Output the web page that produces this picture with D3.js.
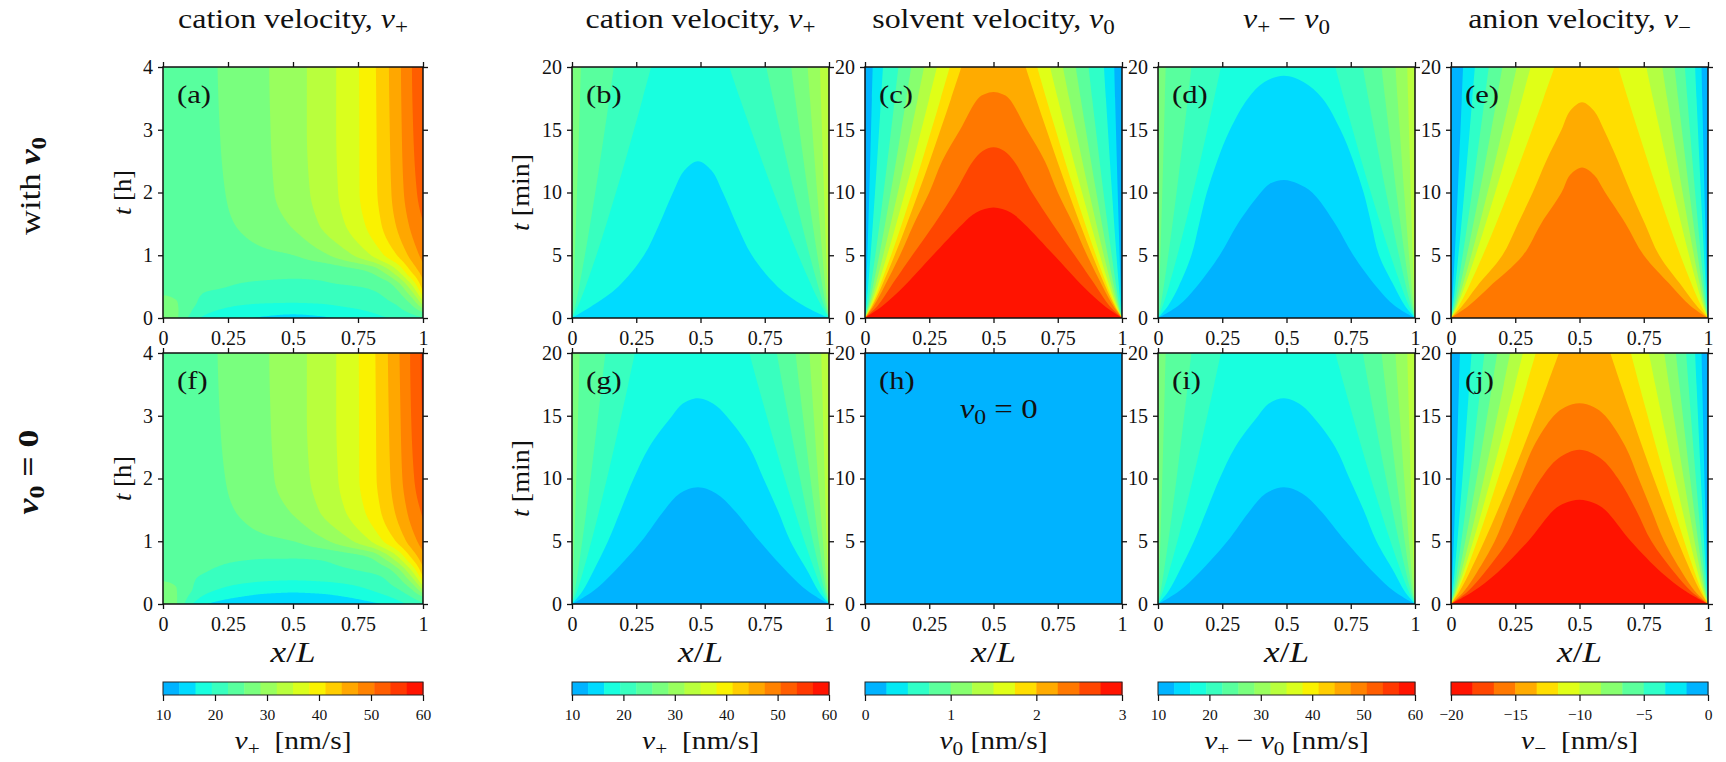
<!DOCTYPE html>
<html>
<head>
<meta charset="utf-8">
<script src="https://cdn.jsdelivr.net/npm/d3@7"></script>
<style>
  body { margin: 0; background: #fff; }
  svg { display: block; }
  svg text { font-family: "Liberation Serif", "Times New Roman", serif; white-space: pre; }
</style>
</head>
<body>
<svg id="fig" width="1726" height="762"></svg>
<script>
// ---------------------------------------------------------------------------
// Long-time panels (a), (f): sampled fields, rows = times [h], cols = x/L
// ---------------------------------------------------------------------------
const xHour = [0, 0.05, 0.1, 0.15, 0.2, 0.3, 0.4, 0.5, 0.6, 0.7, 0.8, 0.85, 0.9, 0.95, 1];
const tHour = [0, 0.1, 0.25, 0.5, 0.75, 1, 1.5, 2, 3, 4];

// (a) cation velocity, with solvent velocity [nm/s]
const cationLongWithSolvent = [
  [27, 26, 22, 19, 17.5, 16.5, 16, 15.8, 16, 16.5, 18, 19, 20, 21, 22],
  [26.8, 26, 23, 20.5, 19.2, 17.8, 17, 16.7, 17, 18, 19.5, 20.5, 21.5, 23, 26],
  [26.5, 25.8, 23.5, 22, 21, 20, 19.6, 19.5, 19.7, 20.5, 21.5, 22, 23, 26, 34],
  [24.5, 24, 23, 22.8, 22.7, 22.3, 22.1, 22.0, 22.1, 22.3, 22.8, 23.5, 26.5, 33, 43],
  [24, 23.7, 23.5, 23.3, 23.2, 23.0, 23.0, 23.0, 23.1, 24.3, 26.2, 29.5, 34.5, 41, 46],
  [24, 24, 24, 24.1, 24.2, 24.5, 25, 25.6, 27.7, 30.7, 35, 38.1, 41.25, 45, 48.5],
  [24, 24.3, 24.5, 24.8, 25.0, 25.9, 27.4, 29.1, 31.9, 35, 39.2, 41.8, 44.7, 47.8, 50.5],
  [24, 24.3, 24.6, 24.9, 25.2, 26.5, 28.2, 30.3, 32.8, 35.9, 40.1, 42.6, 45.8, 49.0, 52],
  [24, 24.3, 24.7, 25.0, 25.4, 27.0, 28.5, 30.6, 33.1, 36.1, 40.1, 43.0, 46.2, 49.8, 53],
  [24, 24.3, 24.7, 25.0, 25.5, 27.1, 28.6, 30.6, 33.1, 36.1, 40.2, 43.2, 46.4, 50.1, 53.5]
];

// (f) cation velocity, solvent at rest [nm/s]
const cationLongNoSolvent = [
  [27, 25.8, 20.5, 17, 15.5, 14, 13.2, 12.8, 13.2, 14, 15.5, 16.5, 18, 20, 22],
  [26.8, 25.8, 22, 19, 17.5, 16, 15.2, 15, 15.2, 16, 17.5, 18.5, 20, 22, 25],
  [26.5, 25.7, 23.2, 21, 19.8, 18.3, 17.5, 17.2, 17.5, 18.3, 19.8, 21, 22.5, 25.5, 33],
  [24.5, 24, 23, 22.6, 22.2, 21.6, 21.2, 21.1, 21.3, 21.8, 22.6, 23.5, 26.5, 33, 43],
  [24, 23.7, 23.4, 23.2, 23.0, 22.8, 22.7, 22.7, 22.9, 24.0, 26.0, 29.5, 34.5, 41, 46.5],
  [24, 24, 24, 24.1, 24.2, 24.5, 25, 25.6, 27.7, 30.7, 35, 38.3, 41.6, 45.5, 49],
  [24, 24.3, 24.5, 24.8, 25.0, 25.9, 27.4, 29.1, 31.9, 35, 39.3, 42, 45, 48.3, 51.2],
  [24, 24.3, 24.6, 24.9, 25.2, 26.5, 28.2, 30.3, 32.8, 35.9, 40.2, 42.8, 46.1, 49.5, 53],
  [24, 24.3, 24.7, 25.0, 25.4, 27.0, 28.5, 30.6, 33.1, 36.1, 40.2, 43.2, 46.5, 50.3, 54],
  [24, 24.3, 24.7, 25.0, 25.5, 27.1, 28.6, 30.6, 33.1, 36.1, 40.3, 43.4, 46.8, 50.6, 54.5]
];

// ---------------------------------------------------------------------------
// First-20-minute panels: band boundaries. For every level, the x/L where the
// boundary crosses each time row (left and right branch); a boundary that
// closes below t = 20 min ends with the points of its rounded top [x/L, t].
// ---------------------------------------------------------------------------
const tRows = [0, 1, 2.5, 5, 7.5, 10, 12.5, 15, 17.5, 20];

// (b) cation velocity with solvent velocity: region v+ <= level
const cationLevels = [31.875, 28.75, 25.625, 22.5, 19.375, 16.25];
const cationLeft = [
  [0, 0, 0, 0, 0, 0, 0, 0, 0, 0],
  [0, 0, 0, 0, 0, 0, 0, 0, 0, 0],
  [0, 0.0027, 0.006, 0.0108, 0.0152, 0.0194, 0.0235, 0.0274, 0.0313, 0.035],
  [0, 0.0127, 0.0279, 0.0502, 0.0707, 0.0905, 0.1094, 0.1276, 0.1456, 0.163],
  [0, 0.024, 0.0527, 0.0949, 0.1337, 0.1709, 0.2067, 0.2412, 0.275, 0.308],
  [0, 0.08, 0.18, 0.28, 0.34, 0.393]
];
const cationRight = [
  [1, 0.9973, 0.994, 0.9892, 0.9848, 0.9806, 0.9765, 0.9726, 0.9687, 0.965],
  [1, 0.9935, 0.9858, 0.9744, 0.964, 0.9539, 0.9443, 0.935, 0.9259, 0.917],
  [1, 0.9885, 0.9749, 0.9547, 0.9362, 0.9184, 0.9014, 0.8849, 0.8687, 0.853],
  [1, 0.981, 0.9583, 0.9248, 0.8941, 0.8646, 0.8363, 0.8089, 0.7821, 0.756],
  [1, 0.9697, 0.9337, 0.8805, 0.8316, 0.7847, 0.7396, 0.6962, 0.6535, 0.612],
  [1, 0.9, 0.8, 0.7, 0.64, 0.587]
];
const cationPeaks = [null, null, null, null, null, [[0.437, 11.75], [0.49, 12.5], [0.543, 11.75]]];

// (c) solvent velocity: region v0 >= level
const solventLevels = [0.25, 0.5, 0.75, 1.0, 1.25, 1.5, 1.75, 2.0, 2.25, 2.5, 2.75];
const solventLeft = [
  [0, 0.0023, 0.0051, 0.0092, 0.013, 0.0167, 0.0201, 0.0235, 0.0268, 0.03],
  [0, 0.0055, 0.012, 0.0216, 0.0304, 0.0389, 0.047, 0.0548, 0.0625, 0.07],
  [0, 0.0101, 0.0222, 0.04, 0.0564, 0.0722, 0.0872, 0.1018, 0.1161, 0.13],
  [0, 0.014, 0.0308, 0.0554, 0.0781, 0.0999, 0.1208, 0.1409, 0.1607, 0.18],
  [0, 0.0179, 0.0393, 0.0708, 0.0998, 0.1277, 0.1543, 0.1801, 0.2054, 0.23],
  [0, 0.0218, 0.0479, 0.0862, 0.1215, 0.1554, 0.1879, 0.2192, 0.25, 0.28],
  [0, 0.0257, 0.0564, 0.1016, 0.1432, 0.1832, 0.2214, 0.2584, 0.2947, 0.33],
  [0, 0.0293, 0.0641, 0.1155, 0.1628, 0.2081, 0.2516, 0.2936, 0.3349, 0.375],
  [0, 0.035, 0.075, 0.136, 0.19, 0.25, 0.3, 0.37, 0.44],
  [0, 0.05, 0.1, 0.184, 0.27, 0.35, 0.42],
  [0, 0.07, 0.15, 0.264, 0.38]
];
const solventRight = [
  [1, 0.9977, 0.9949, 0.9908, 0.987, 0.9833, 0.9799, 0.9765, 0.9732, 0.97],
  [1, 0.9945, 0.988, 0.9784, 0.9696, 0.9611, 0.953, 0.9452, 0.9375, 0.93],
  [1, 0.9899, 0.9778, 0.96, 0.9436, 0.9278, 0.9128, 0.8982, 0.8839, 0.87],
  [1, 0.986, 0.9692, 0.9446, 0.9219, 0.9001, 0.8792, 0.8591, 0.8393, 0.82],
  [1, 0.9821, 0.9607, 0.9292, 0.9002, 0.8723, 0.8457, 0.8199, 0.7946, 0.77],
  [1, 0.9782, 0.9521, 0.9138, 0.8785, 0.8446, 0.8121, 0.7808, 0.75, 0.72],
  [1, 0.9743, 0.9436, 0.8984, 0.8568, 0.8168, 0.7786, 0.7416, 0.7053, 0.67],
  [1, 0.9707, 0.9359, 0.8845, 0.8372, 0.7919, 0.7484, 0.7064, 0.6651, 0.625],
  [1, 0.965, 0.925, 0.864, 0.81, 0.75, 0.7, 0.63, 0.56],
  [1, 0.95, 0.9, 0.816, 0.73, 0.65, 0.58],
  [1, 0.93, 0.85, 0.736, 0.62]
];
const solventPeaks = [null, null, null, null, null, null, null, null,
  [[0.467, 17.85], [0.5, 18], [0.533, 17.85]],
  [[0.458, 13.3], [0.5, 13.6], [0.542, 13.3]],
  [[0.433, 8.4], [0.5, 8.8], [0.567, 8.4]]];

// (d) cation velocity relative to the solvent: region v+ - v0 <= level
const relativeLevels = [31.875, 28.75, 25.625, 22.5, 19.375, 16.25, 13.125];
const relativeLeft = [
  [0, 0, 0, 0, 0, 0, 0, 0, 0, 0],
  [0, 0, 0, 0, 0, 0, 0, 0, 0, 0],
  [0, 0.0023, 0.0051, 0.0092, 0.013, 0.0167, 0.0201, 0.0235, 0.0268, 0.03],
  [0, 0.0101, 0.0222, 0.04, 0.0564, 0.0722, 0.0872, 0.1018, 0.1161, 0.13],
  [0, 0.0191, 0.0419, 0.0755, 0.1063, 0.136, 0.1644, 0.1918, 0.2188, 0.245],
  [0, 0.04, 0.08, 0.13, 0.16, 0.19, 0.23, 0.28, 0.35],
  [0, 0.08, 0.15, 0.24, 0.31, 0.4]
];
const relativeRight = [
  [1, 0.9977, 0.9949, 0.9908, 0.987, 0.9833, 0.9799, 0.9765, 0.9732, 0.97],
  [1, 0.9941, 0.987, 0.9766, 0.967, 0.9578, 0.949, 0.9405, 0.9321, 0.924],
  [1, 0.9899, 0.9778, 0.96, 0.9436, 0.9278, 0.9128, 0.8982, 0.8839, 0.87],
  [1, 0.9842, 0.9653, 0.9375, 0.9119, 0.8873, 0.8638, 0.841, 0.8187, 0.797],
  [1, 0.9758, 0.947, 0.9045, 0.8655, 0.828, 0.792, 0.7573, 0.7232, 0.69],
  [1, 0.96, 0.92, 0.86, 0.83, 0.8, 0.76, 0.71, 0.64],
  [1, 0.92, 0.85, 0.76, 0.69, 0.6]
];
const relativePeaks = [null, null, null, null, null,
  [[0.414, 18.8], [0.49, 19.3], [0.566, 18.8]],
  [[0.435, 10.7], [0.49, 11], [0.545, 10.7]]];

// (e) anion velocity with solvent velocity: region v- <= level
const anionLevels = [-1.667, -3.333, -5, -6.667, -8.333, -10, -11.667, -13.333, -15];
const anionLeft = [
  [0, 0.0037, 0.008, 0.0145, 0.0204, 0.0261, 0.0315, 0.0368, 0.042, 0.047],
  [0, 0.0073, 0.0159, 0.0286, 0.0404, 0.0516, 0.0624, 0.0728, 0.083, 0.093],
  [0, 0.0115, 0.0251, 0.0453, 0.0638, 0.0816, 0.0986, 0.1151, 0.1313, 0.147],
  [0, 0.0156, 0.0342, 0.0616, 0.0868, 0.111, 0.1342, 0.1566, 0.1786, 0.2],
  [0, 0.02, 0.0438, 0.0788, 0.1111, 0.1421, 0.1718, 0.2004, 0.2286, 0.256],
  [0, 0.0242, 0.053, 0.0955, 0.1345, 0.172, 0.208, 0.2427, 0.2768, 0.31],
  [0, 0.0314, 0.0689, 0.1241, 0.1749, 0.2237, 0.2704, 0.3155, 0.3599, 0.403],
  [0, 0.045, 0.1, 0.2, 0.26, 0.318, 0.37, 0.43],
  [0, 0.07, 0.15, 0.28, 0.35, 0.43]
];
const anionRight = [
  [1, 0.998, 0.9957, 0.9923, 0.9892, 0.9861, 0.9832, 0.9804, 0.9777, 0.975],
  [1, 0.9961, 0.9915, 0.9846, 0.9783, 0.9723, 0.9665, 0.9609, 0.9554, 0.95],
  [1, 0.993, 0.9846, 0.9723, 0.9609, 0.95, 0.9396, 0.9295, 0.9196, 0.91],
  [1, 0.9899, 0.9778, 0.96, 0.9436, 0.9278, 0.9128, 0.8982, 0.8839, 0.87],
  [1, 0.9861, 0.9696, 0.9452, 0.9227, 0.9012, 0.8806, 0.8606, 0.841, 0.822],
  [1, 0.9813, 0.959, 0.9261, 0.8958, 0.8668, 0.839, 0.8121, 0.7857, 0.76],
  [1, 0.9728, 0.9403, 0.8925, 0.8485, 0.8063, 0.7658, 0.7267, 0.6883, 0.651],
  [1, 0.955, 0.9, 0.81, 0.755, 0.7, 0.65, 0.595],
  [1, 0.93, 0.86, 0.75, 0.68, 0.6]
];
const anionPeaks = [null, null, null, null, null, null, null,
  [[0.463, 16.5], [0.51, 17.2], [0.557, 16.5]],
  [[0.463, 11.4], [0.51, 12], [0.557, 11.4]]];

// (g), (i) cation velocity with the solvent at rest: region v+ <= level
const restCationLevels = [31.875, 28.75, 25.625, 22.5, 19.375, 16.25, 13.125];
const restCationLeft = [
  [0, 0, 0, 0, 0, 0, 0, 0, 0, 0],
  [0, 0, 0, 0, 0, 0, 0, 0, 0, 0],
  [0, 0.0023, 0.0051, 0.0092, 0.013, 0.0167, 0.0201, 0.0235, 0.0268, 0.03],
  [0, 0.0101, 0.0222, 0.04, 0.0564, 0.0722, 0.0872, 0.1018, 0.1161, 0.13],
  [0, 0.0191, 0.0419, 0.0755, 0.1063, 0.136, 0.1644, 0.1918, 0.2188, 0.245],
  [0, 0.04, 0.08, 0.14, 0.19, 0.24, 0.3, 0.39],
  [0, 0.08, 0.16, 0.27, 0.36]
];
const restCationRight = [
  [1, 0.9977, 0.9949, 0.9908, 0.987, 0.9833, 0.9799, 0.9765, 0.9732, 0.97],
  [1, 0.9941, 0.987, 0.9766, 0.967, 0.9578, 0.949, 0.9405, 0.9321, 0.924],
  [1, 0.9899, 0.9778, 0.96, 0.9436, 0.9278, 0.9128, 0.8982, 0.8839, 0.87],
  [1, 0.9842, 0.9653, 0.9375, 0.9119, 0.8873, 0.8638, 0.841, 0.8187, 0.797],
  [1, 0.9758, 0.947, 0.9045, 0.8655, 0.828, 0.792, 0.7573, 0.7232, 0.69],
  [1, 0.96, 0.92, 0.85, 0.8, 0.745, 0.69, 0.6],
  [1, 0.92, 0.84, 0.73, 0.63]
];
const restCationPeaks = [null, null, null, null, null,
  [[0.43, 15.95], [0.49, 16.4], [0.55, 15.95]],
  [[0.419, 8.8], [0.49, 9.3], [0.561, 8.8]]];

// (j) anion velocity with the solvent at rest: region v- <= level
const restAnionLevels = [-1.667, -3.333, -5, -6.667, -8.333, -10, -11.667, -13.333, -15, -16.667, -18.333];
const restAnionLeft = [
  [0, 0.0027, 0.006, 0.0108, 0.0152, 0.0194, 0.0235, 0.0274, 0.0313, 0.035],
  [0, 0.0062, 0.0137, 0.0246, 0.0347, 0.0444, 0.0537, 0.0626, 0.0714, 0.08],
  [0, 0.0101, 0.0222, 0.04, 0.0564, 0.0722, 0.0872, 0.1018, 0.1161, 0.13],
  [0, 0.014, 0.0308, 0.0554, 0.0781, 0.0999, 0.1208, 0.1409, 0.1607, 0.18],
  [0, 0.0179, 0.0393, 0.0708, 0.0998, 0.1277, 0.1543, 0.1801, 0.2054, 0.23],
  [0, 0.0218, 0.0479, 0.0862, 0.1215, 0.1554, 0.1879, 0.2192, 0.25, 0.28],
  [0, 0.0257, 0.0564, 0.1016, 0.1432, 0.1832, 0.2214, 0.2584, 0.2947, 0.33],
  [0, 0.0328, 0.0718, 0.1294, 0.1823, 0.2331, 0.2818, 0.3289, 0.3751, 0.42],
  [0, 0.05, 0.1, 0.17, 0.22, 0.27, 0.32, 0.4],
  [0, 0.065, 0.13, 0.22, 0.28, 0.35],
  [0, 0.085, 0.18, 0.3, 0.4]
];
const restAnionRight = [
  [1, 0.998, 0.9957, 0.9923, 0.9892, 0.9861, 0.9832, 0.9804, 0.9777, 0.975],
  [1, 0.9961, 0.9915, 0.9846, 0.9783, 0.9723, 0.9665, 0.9609, 0.9554, 0.95],
  [1, 0.9934, 0.9855, 0.9738, 0.9631, 0.9528, 0.943, 0.9334, 0.9241, 0.915],
  [1, 0.9903, 0.9786, 0.9615, 0.9458, 0.9306, 0.9161, 0.9021, 0.8884, 0.875],
  [1, 0.9867, 0.9709, 0.9477, 0.9262, 0.9057, 0.886, 0.8669, 0.8482, 0.83],
  [1, 0.9821, 0.9607, 0.9292, 0.9002, 0.8723, 0.8457, 0.8199, 0.7946, 0.77],
  [1, 0.9766, 0.9487, 0.9076, 0.8698, 0.8335, 0.7987, 0.7651, 0.7321, 0.7],
  [1, 0.9704, 0.935, 0.883, 0.8351, 0.7891, 0.745, 0.7025, 0.6607, 0.62],
  [1, 0.95, 0.9, 0.83, 0.78, 0.73, 0.68, 0.6],
  [1, 0.935, 0.87, 0.78, 0.72, 0.65],
  [1, 0.915, 0.82, 0.7, 0.6]
];
const restAnionPeaks = [null, null, null, null, null, null, null, null,
  [[0.445, 15.7], [0.5, 16], [0.555, 15.7]],
  [[0.417, 11.6], [0.5, 12.3], [0.583, 11.6]],
  [[0.444, 8.05], [0.5, 8.3], [0.556, 8.05]]];

// Tick values
const xTicks = [0, 0.25, 0.5, 0.75, 1];
const hourTicks = [0, 1, 2, 3, 4];
const minuteTicks = [0, 5, 10, 15, 20];
const cationTicks = [10, 20, 30, 40, 50, 60];
const solventTicks = [0, 1, 2, 3];
const anionTicks = [-20, -15, -10, -5, 0];

// Discrete colour scales: number of bands across each colour bar
const colourScales = {
  cation:  { min: 10,  max: 60, bands: 16, reversed: false, ticks: cationTicks },
  solvent: { min: 0,   max: 3,  bands: 12, reversed: false, ticks: solventTicks },
  anion:   { min: -20, max: 0,  bands: 12, reversed: true,  ticks: anionTicks }
};

// ---------------------------------------------------------------------------
// Layout
// ---------------------------------------------------------------------------
const colLeft = [163, 572, 865, 1158, 1451];
const colWidth = [260, 257, 257, 257, 257];
const rowTop = [67, 353];
const panelH = 251;
const barTop = 682, barH = 13;
const INK = '#111';

const svg = d3.select('#fig');

// jet colour map
const jetR = d3.scaleLinear().domain([0, 0.35, 0.66, 0.89, 1]).range([0, 0, 1, 1, 0.5]).clamp(true);
const jetG = d3.scaleLinear().domain([0, 0.125, 0.375, 0.64, 0.91, 1]).range([0, 0, 1, 1, 0, 0]).clamp(true);
const jetB = d3.scaleLinear().domain([0, 0.11, 0.34, 0.65, 1]).range([0.5, 1, 1, 0, 0]).clamp(true);
const jet = t => d3.rgb(255 * jetR(t), 255 * jetG(t), 255 * jetB(t)).formatHex();
function bandColour(sc, k) {
  const idx = sc.reversed ? sc.bands - 1 - k : k;
  return jet(0.30 + 0.59 * idx / (sc.bands - 1));
}

// shape-preserving cubic interpolation through sample points
function endSlope(h0, h1, d0, d1) {
  let d = ((2 * h0 + h1) * d0 - h0 * d1) / (h0 + h1);
  if (Math.sign(d) !== Math.sign(d0)) d = 0;
  else if (Math.sign(d0) !== Math.sign(d1) && Math.abs(d) > Math.abs(3 * d0)) d = 3 * d0;
  return d;
}
function pchip(xs, ys) {
  const n = xs.length, h = [], del = [], m = new Array(n);
  for (let i = 0; i < n - 1; i++) { h[i] = xs[i + 1] - xs[i]; del[i] = (ys[i + 1] - ys[i]) / h[i]; }
  for (let i = 1; i < n - 1; i++) {
    if (del[i - 1] * del[i] <= 0) m[i] = 0;
    else {
      const w1 = 2 * h[i] + h[i - 1], w2 = h[i] + 2 * h[i - 1];
      m[i] = (w1 + w2) / (w1 / del[i - 1] + w2 / del[i]);
    }
  }
  m[0] = endSlope(h[0], h[1], del[0], del[1]);
  m[n - 1] = endSlope(h[n - 2], h[n - 3], del[n - 2], del[n - 3]);
  return x => {
    let i = d3.bisectRight(xs, x) - 1;
    i = Math.max(0, Math.min(n - 2, i));
    const t = (x - xs[i]) / h[i], t2 = t * t, t3 = t2 * t;
    return (2 * t3 - 3 * t2 + 1) * ys[i] + (t3 - 2 * t2 + t) * h[i] * m[i]
         + (-2 * t3 + 3 * t2) * ys[i + 1] + (t3 - t2) * h[i] * m[i + 1];
  };
}

// regular fine grid for the contour generator
const NX = 240, NY = 240;
function resample(xs, ts, grid, tMax) {
  const xf = d3.range(NX).map(i => i / (NX - 1));
  const tf = d3.range(NY).map(j => tMax * j / (NY - 1));
  const rowsFine = grid.map(row => xf.map(pchip(xs, row)));
  const values = new Float64Array(NX * NY);
  for (let i = 0; i < NX; i++) {
    const f = pchip(ts, rowsFine.map(r => r[i]));
    for (let j = 0; j < NY; j++) values[j * NX + i] = f(tf[j]);
  }
  return values;
}

// rich text: parts = [[string, style]]; style letters: i italic, b bold, s subscript.
// Drawn inside a group so it can be widened horizontally about its anchor,
// either by a given factor or to a given overall width.
function richText(parent, parts, fs, o) {
  const grp = parent.append('g');
  const text = grp.append('text').attr('font-size', fs).attr('fill', INK)
    .attr('text-anchor', o.anchor || 'start');
  let shift = 0;
  parts.forEach(([s, style]) => {
    const sub = style.includes('s');
    const target = sub ? fs * 0.22 : 0;
    const ts = text.append('tspan').text(s);
    if (target !== shift) { ts.attr('dy', target - shift); shift = target; }
    if (style.includes('i')) ts.attr('font-style', 'italic');
    if (style.includes('b')) ts.attr('font-weight', 'bold');
    if (sub) ts.attr('font-size', fs * 0.72);
  });
  let widen = o.widen || 1;
  if (o.width) widen = o.width / text.node().getComputedTextLength();
  grp.attr('transform', `translate(${o.x},${o.y}) rotate(${o.rotate || 0}) scale(${widen},1)`);
  return widen;
}

// ---------------------------------------------------------------------------
// Panels
// ---------------------------------------------------------------------------
const boundarySets = {
  cation:     { levels: cationLevels, left: cationLeft, right: cationRight, peaks: cationPeaks, inside: 'below' },
  solvent:    { levels: solventLevels, left: solventLeft, right: solventRight, peaks: solventPeaks, inside: 'above' },
  relative:   { levels: relativeLevels, left: relativeLeft, right: relativeRight, peaks: relativePeaks, inside: 'below' },
  anion:      { levels: anionLevels, left: anionLeft, right: anionRight, peaks: anionPeaks, inside: 'below' },
  restCation: { levels: restCationLevels, left: restCationLeft, right: restCationRight, peaks: restCationPeaks, inside: 'below' },
  restAnion:  { levels: restAnionLevels, left: restAnionLeft, right: restAnionRight, peaks: restAnionPeaks, inside: 'below' }
};

const panels = [
  { tag: '(a)', col: 0, row: 0, grid: cationLongWithSolvent, tMax: 4, tTicks: hourTicks, scale: 'cation', tUnit: 'h' },
  { tag: '(b)', col: 1, row: 0, bounds: 'cation', tMax: 20, tTicks: minuteTicks, scale: 'cation', tUnit: 'min' },
  { tag: '(c)', col: 2, row: 0, bounds: 'solvent', tMax: 20, tTicks: minuteTicks, scale: 'solvent' },
  { tag: '(d)', col: 3, row: 0, bounds: 'relative', tMax: 20, tTicks: minuteTicks, scale: 'cation' },
  { tag: '(e)', col: 4, row: 0, bounds: 'anion', tMax: 20, tTicks: minuteTicks, scale: 'anion' },
  { tag: '(f)', col: 0, row: 1, grid: cationLongNoSolvent, tMax: 4, tTicks: hourTicks, scale: 'cation', tUnit: 'h' },
  { tag: '(g)', col: 1, row: 1, bounds: 'restCation', tMax: 20, tTicks: minuteTicks, scale: 'cation', tUnit: 'min' },
  { tag: '(h)', col: 2, row: 1, tMax: 20, tTicks: minuteTicks, scale: 'solvent', note: true },
  { tag: '(i)', col: 3, row: 1, bounds: 'restCation', tMax: 20, tTicks: minuteTicks, scale: 'cation' },
  { tag: '(j)', col: 4, row: 1, bounds: 'restAnion', tMax: 20, tTicks: minuteTicks, scale: 'anion' }
];

const defs = svg.append('defs');
let tagWiden = null;

panels.forEach((p, pi) => {
  const x0 = colLeft[p.col], w = colWidth[p.col], y0 = rowTop[p.row];
  const sc = colourScales[p.scale];
  const step = (sc.max - sc.min) / sc.bands;
  const x = d3.scaleLinear().domain([0, 1]).range([x0, x0 + w]);
  const y = d3.scaleLinear().domain([0, p.tMax]).range([y0 + panelH, y0]);

  defs.append('clipPath').attr('id', 'clip' + pi)
    .append('rect').attr('x', x0).attr('y', y0).attr('width', w).attr('height', panelH);
  const g = svg.append('g').attr('clip-path', `url(#clip${pi})`);
  const bg = g.append('rect').attr('x', x0).attr('y', y0).attr('width', w).attr('height', panelH)
    .attr('fill', bandColour(sc, 0));

  if (p.grid) {
    // filled contours of a sampled field
    const thresholds = d3.range(1, sc.bands).map(k => sc.min + k * step);
    const values = resample(xHour, tHour, p.grid, p.tMax);
    const contours = d3.contours().size([NX, NY]).thresholds(thresholds)(values);
    const proj = d3.geoTransform({
      point(px, py) {
        const u = Math.max(0, Math.min(1, (px - 0.5) / (NX - 1)));
        const v = Math.max(0, Math.min(1, (py - 0.5) / (NY - 1)));
        this.stream.point(x(u), y(v * p.tMax));
      }
    });
    g.selectAll('path.band').data(contours).join('path')
      .attr('class', 'band')
      .attr('d', d3.geoPath(proj))
      .attr('fill', (d, k) => bandColour(sc, k + 1));
  } else if (p.bounds) {
    // nested regions enclosed by each band boundary
    const B = boundarySets[p.bounds];
    const bandOf = L => Math.round((L - sc.min) / step);
    const insideBand = L => B.inside === 'below' ? bandOf(L) - 1 : bandOf(L);
    bg.attr('fill', bandColour(sc, B.inside === 'below' ? bandOf(B.levels[0]) : bandOf(B.levels[0]) - 1));
    const line = d3.line().x(d => x(d[0])).y(d => y(d[1])).curve(d3.curveCatmullRom.alpha(0.5));
    const regions = B.levels.map((L, i) => {
      const left = B.left[i].map((v, r) => [v, tRows[r]]);
      const right = B.right[i].map((v, r) => [v, tRows[r]]).reverse();
      const d = B.peaks[i]
        ? line([...left, ...B.peaks[i], ...right]) + 'Z'
        : line(left) + line(right).replace(/^M/, 'L') + 'Z';
      return { d, fill: bandColour(sc, insideBand(L)) };
    });
    g.selectAll('path.band').data(regions).join('path')
      .attr('class', 'band').attr('d', r => r.d).attr('fill', r => r.fill);
  }

  // frame with outward ticks on all sides
  const styleAxis = sel => {
    sel.attr('font-family', null).attr('font-size', 20);
    sel.select('.domain').remove();
    sel.selectAll('.tick line').attr('stroke', INK).attr('stroke-width', 1.3);
    sel.selectAll('.tick text').attr('fill', INK);
  };
  const fmt = d3.format('');
  svg.append('g').attr('transform', `translate(0,${y0 + panelH})`)
    .call(d3.axisBottom(x).tickValues(xTicks).tickSize(5).tickPadding(8).tickFormat(fmt)).call(styleAxis);
  svg.append('g').attr('transform', `translate(0,${y0})`)
    .call(d3.axisTop(x).tickValues(xTicks).tickSize(5).tickFormat('')).call(styleAxis);
  svg.append('g').attr('transform', `translate(${x0},0)`)
    .call(d3.axisLeft(y).tickValues(p.tTicks).tickSize(5).tickPadding(5).tickFormat(fmt)).call(styleAxis);
  svg.append('g').attr('transform', `translate(${x0 + w},0)`)
    .call(d3.axisRight(y).tickValues(p.tTicks).tickSize(5).tickFormat('')).call(styleAxis);
  svg.append('rect').attr('x', x0).attr('y', y0).attr('width', w).attr('height', panelH)
    .attr('fill', 'none').attr('stroke', INK).attr('stroke-width', 1.5);

  const tagOpts = { x: x0 + 14, y: y0 + 36 };
  if (tagWiden === null) tagWiden = richText(svg, [[p.tag, '']], 26, { ...tagOpts, width: 34 });
  else richText(svg, [[p.tag, '']], 26, { ...tagOpts, widen: tagWiden });

  if (p.note) {
    richText(svg, [['v', 'i'], ['0', 's'], [' = 0', '']], 28,
      { x: x(0.52), y: y0 + 65, anchor: 'middle', width: 78 });
  }

  if (p.tUnit) {
    const lx = x0 - (p.tUnit === 'h' ? 41 : 52) + 9;
    richText(svg, [['t', 'i'], [` [${p.tUnit}]`, '']], 26,
      { x: lx, y: y0 + panelH / 2, anchor: 'middle', rotate: -90, width: p.tUnit === 'h' ? 45 : 77 });
  }

  if (p.row === 1) {
    richText(svg, [['x', 'i'], ['/', ''], ['L', 'i']], 29,
      { x: x(0.5), y: 662, anchor: 'middle', width: 45 });
  }
});

// ---------------------------------------------------------------------------
// Column titles, colour bars, row labels
// ---------------------------------------------------------------------------
const columns = [
  { title: [['cation velocity, ', ''], ['v', 'i'], ['+', 's']], scale: 'cation',
    bar: [['v', 'i'], ['+', 's'], ['  [nm/s]', '']] },
  { title: [['cation velocity, ', ''], ['v', 'i'], ['+', 's']], scale: 'cation',
    bar: [['v', 'i'], ['+', 's'], ['  [nm/s]', '']] },
  { title: [['solvent velocity, ', ''], ['v', 'i'], ['0', 's']], scale: 'solvent',
    bar: [['v', 'i'], ['0', 's'], [' [nm/s]', '']] },
  { title: [['v', 'i'], ['+', 's'], [' − ', ''], ['v', 'i'], ['0', 's']], scale: 'cation',
    bar: [['v', 'i'], ['+', 's'], [' − ', ''], ['v', 'i'], ['0', 's'], [' [nm/s]', '']] },
  { title: [['anion velocity, ', ''], ['v', 'i'], ['−', 's']], scale: 'anion',
    bar: [['v', 'i'], ['−', 's'], ['  [nm/s]', '']] }
];

let titleWiden = null, barWiden = null;
columns.forEach((c, ci) => {
  const x0 = colLeft[ci], w = colWidth[ci];
  const sc = colourScales[c.scale];

  const tOpts = { x: x0 + w / 2, y: 28, anchor: 'middle' };
  if (titleWiden === null) titleWiden = richText(svg, c.title, 28, { ...tOpts, width: 230 });
  else richText(svg, c.title, 28, { ...tOpts, widen: titleWiden });

  const bx = d3.scaleLinear().domain([sc.min, sc.max]).range([x0, x0 + w]);
  const step = (sc.max - sc.min) / sc.bands;
  svg.append('g').selectAll('rect').data(d3.range(sc.bands)).join('rect')
    .attr('x', k => bx(sc.min + k * step))
    .attr('width', k => bx(sc.min + (k + 1) * step) - bx(sc.min + k * step) + 0.5)
    .attr('y', barTop).attr('height', barH)
    .attr('fill', k => bandColour(sc, k));
  svg.append('rect').attr('x', x0).attr('y', barTop).attr('width', w).attr('height', barH)
    .attr('fill', 'none').attr('stroke', '#222').attr('stroke-width', 1);
  svg.append('g').attr('transform', `translate(0,${barTop + barH})`)
    .call(d3.axisBottom(bx).tickValues(sc.ticks).tickSize(6).tickPadding(8).tickFormat(d3.format('')))
    .call(sel => {
      sel.attr('font-family', null).attr('font-size', 15.5);
      sel.select('.domain').remove();
      sel.selectAll('.tick line').attr('stroke', INK).attr('stroke-width', 1.2);
      sel.selectAll('.tick text').attr('fill', INK);
    });

  const bOpts = { x: x0 + w / 2, y: 749, anchor: 'middle' };
  if (barWiden === null) barWiden = richText(svg, c.bar, 26, { ...bOpts, width: 117 });
  else richText(svg, c.bar, 26, { ...bOpts, widen: barWiden });
});

richText(svg, [['with ', ''], ['v', 'bi'], ['0', 'bs']], 29,
  { x: 40, y: 186, anchor: 'middle', rotate: -90, width: 98 });
richText(svg, [['v', 'bi'], ['0', 'bs'], [' = 0', 'b']], 29,
  { x: 38, y: 472, anchor: 'middle', rotate: -90, width: 85 });
</script>
</body>
</html>
